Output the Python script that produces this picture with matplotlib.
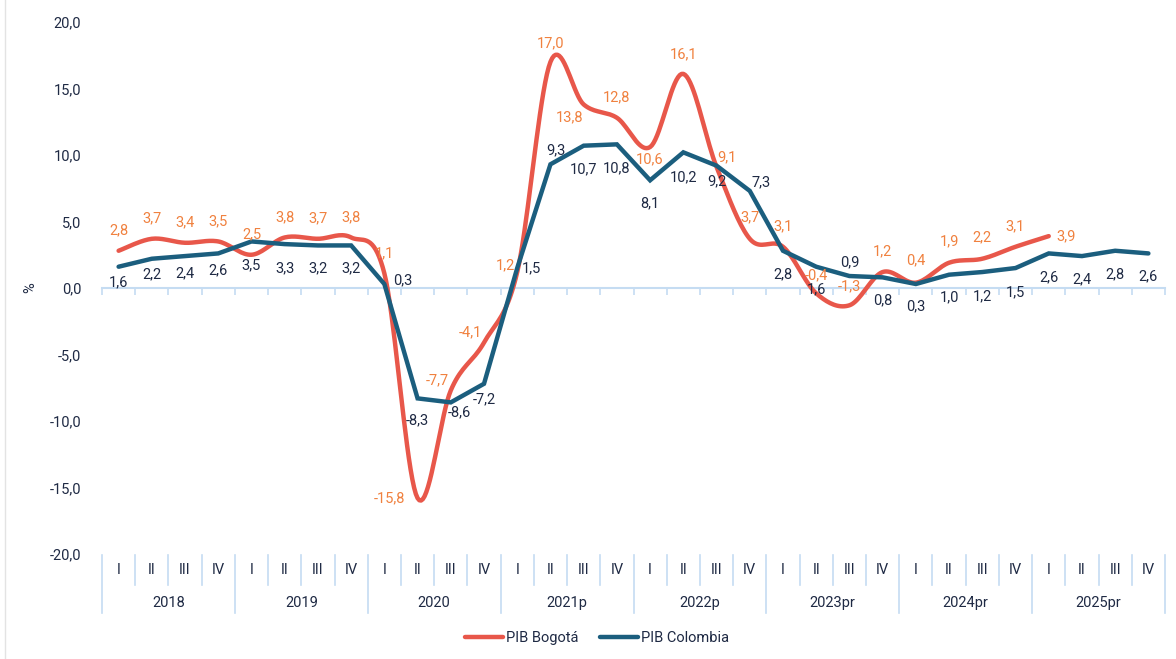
import matplotlib
matplotlib.use("Agg")
import matplotlib.pyplot as plt
import matplotlib.transforms as mtransforms
from matplotlib.lines import Line2D
import numpy as np


YEARS = ["2018", "2019", "2020", "2021p", "2022p", "2023pr", "2024pr", "2025pr"]
QUARTERS = ["I", "II", "III", "IV"]

PIB_BOGOTA = [2.8, 3.7, 3.4, 3.5,
              2.5, 3.8, 3.7, 3.8,
              1.1, -15.8, -7.7, -4.1,
              1.2, 17.0, 13.8, 12.8,
              10.6, 16.1, 9.1, 3.7,
              3.1, -0.4, -1.3, 1.2,
              0.4, 1.9, 2.2, 3.1,
              3.9]

PIB_COLOMBIA = [1.6, 2.2, 2.4, 2.6,
                3.5, 3.3, 3.2, 3.2,
                0.3, -8.3, -8.6, -7.2,
                1.5, 9.3, 10.7, 10.8,
                8.1, 10.2, 9.2, 7.3,
                2.8, 1.6, 0.9, 0.8,
                0.3, 1.0, 1.2, 1.5,
                2.6, 2.4, 2.8, 2.6]

# label offsets in pixels (dx, dy), dy positive = down
BOG_OFFSETS = [(0, -20)] * 9 + [(-28, 0), (-13, -10), (-14, -10), (-12, -7),
                                (0, -19), (-14, 13), (0, -20), (0, 12),
                                (0, -20), (10, -10), (0, -21), (0, -20),
                                (0, -18), (0, -19), (0, -21), (0, -22),
                                (0, -21), (0, -21), (0, -20), (17, 0)]
COL_OFFSETS = [(0, 16), (0, 16), (0, 17), (0, 17), (0, 24), (0, 24), (0, 23),
               (0, 23), (18, -4), (0, 22), (9, 10), (0, 16), (14, 0),
               (5, -14), (0, 24), (0, 24), (0, 23), (0, 25), (0, 16),
               (11, -9), (0, 24), (0, 23), (0, -14), (0, 23), (0, 22),
               (0, 23), (0, 24), (0, 24), (0, 24), (0, 23), (0, 24), (0, 23)]

RED = "#E8574A"
ORANGE = "#F0813F"
BLUE = "#1B5E7E"
NAVY = "#1F2A44"
AXIS_BLUE = "#C5DCF2"
FS = 10.5


def smooth(x, y, n=20):
    """Excel-like smoothed line (Catmull-Rom via cubic Bezier)."""
    pts = np.column_stack([x, y]).astype(float)
    padded = np.vstack([pts[0], pts, pts[-1]])
    out = []
    t = np.linspace(0, 1, n)[:, None]
    for i in range(len(pts) - 1):
        p0, p1, p2, p3 = padded[i], padded[i + 1], padded[i + 2], padded[i + 3]
        c1 = p1 + (p2 - p0) / 6
        c2 = p2 - (p3 - p1) / 6
        seg = ((1 - t) ** 3) * p1 + 3 * ((1 - t) ** 2) * t * c1 \
            + 3 * (1 - t) * t ** 2 * c2 + t ** 3 * p2
        out.append(seg if i == 0 else seg[1:])
    out = np.vstack(out)
    return out[:, 0], out[:, 1]


def fmt(v):
    return f"{v:.1f}".replace(".", ",")


plt.rcParams["font.family"] = ["Roboto", "DejaVu Sans"]

fig = plt.figure(figsize=(11.76, 6.59), dpi=100)
ax = fig.add_axes([102 / 1176, 1 - 554 / 659, 1063 / 1176, 532 / 659])

n_q = len(YEARS) * len(QUARTERS)
x_bog = np.arange(len(PIB_BOGOTA))
x_col = np.arange(len(PIB_COLOMBIA))

sx, sy = smooth(x_bog, PIB_BOGOTA)
ax.plot(sx, sy, color=RED, lw=3.2, solid_capstyle="round", zorder=3)
ax.plot(x_col, PIB_COLOMBIA, color=BLUE, lw=3.2, solid_capstyle="round",
        solid_joinstyle="miter", zorder=4)

for xi, v, (dx, dy) in zip(x_bog, PIB_BOGOTA, BOG_OFFSETS):
    ax.annotate(fmt(v), (xi, v), xytext=(dx * 0.72, -dy * 0.72),
                textcoords="offset points", ha="center", va="center",
                color=ORANGE, fontsize=FS, zorder=5)
for xi, v, (dx, dy) in zip(x_col, PIB_COLOMBIA, COL_OFFSETS):
    ax.annotate(fmt(v), (xi, v), xytext=(dx * 0.72, -dy * 0.72),
                textcoords="offset points", ha="center", va="center",
                color=NAVY, fontsize=FS, zorder=5)

ax.set_xlim(-0.5, n_q - 0.5)
ax.set_ylim(-20, 20)
ax.set_yticks(np.arange(-20, 21, 5))
ax.set_yticklabels([fmt(v) for v in np.arange(-20, 21, 5)])
ax.tick_params(axis="y", length=0, pad=15, labelsize=FS, labelcolor=NAVY)
ax.set_ylabel("%", color=NAVY, fontsize=FS)
ax.yaxis.set_label_coords(-65 / 1063, 0.5)

for side in ["top", "right", "left"]:
    ax.spines[side].set_visible(False)
ax.spines["bottom"].set_position(("data", 0))
ax.spines["bottom"].set_color(AXIS_BLUE)
ax.spines["bottom"].set_linewidth(1.5)
ax.set_xticks(np.arange(-0.5, n_q, 1))
ax.tick_params(axis="x", direction="out", length=5, width=1.2,
               color=AXIS_BLUE, labelbottom=False)

# category labels below the plot
trans = mtransforms.blended_transform_factory(ax.transData, ax.transAxes)
for i in range(n_q):
    ax.text(i, -0.030, QUARTERS[i % 4], transform=trans, ha="center",
            va="center", fontsize=FS, color=NAVY)
for j, year in enumerate(YEARS):
    ax.text(j * 4 + 1.5, -0.092, year, transform=trans, ha="center",
            va="center", fontsize=FS, color=NAVY)
for k in range(n_q + 1):
    bottom = -0.111 if k % 4 == 0 else -0.058
    ax.add_line(Line2D([k - 0.5, k - 0.5], [-0.002, bottom], transform=trans,
                       color=AXIS_BLUE, lw=1.2, clip_on=False))

handles = [Line2D([], [], color=RED, lw=3.2, solid_capstyle="round"),
           Line2D([], [], color=BLUE, lw=3.2, solid_capstyle="round")]
fig.legend(handles, ["PIB Bogotá", "PIB Colombia"], loc="center",
           bbox_to_anchor=(597 / 1176, 1 - 638 / 659), ncol=2, frameon=False,
           fontsize=FS, labelcolor=NAVY, handlelength=2.6, handletextpad=0.2,
           columnspacing=1.5)

fig.add_artist(Line2D([5 / 1176, 5 / 1176], [0, 1], color="#E3E3E3", lw=1))

fig.savefig("out.png", dpi=100)
